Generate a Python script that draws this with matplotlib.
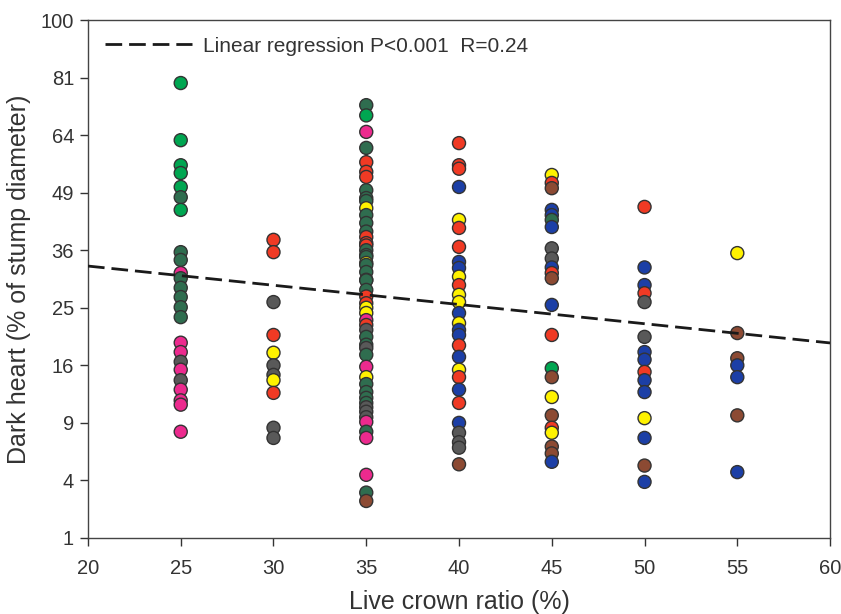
import numpy as np
import matplotlib
matplotlib.use('Agg')
import matplotlib.pyplot as plt
from matplotlib.lines import Line2D

plt.rcParams['font.family'] = ['Liberation Sans', 'DejaVu Sans']

# group colours
palette = {
    'g': '#00a651',   # green
    'd': '#2f6d4f',   # dark green
    'p': '#ec2a8e',   # pink
    'k': '#595959',   # grey
    'r': '#f03a24',   # red
    'y': '#fff200',   # yellow
    'b': '#1c3fa6',   # blue
    'n': '#8c4a33',   # brown
}

# live crown ratio classes (%)
lcr = [25, 30, 35, 40, 45, 50, 55]

# dark heart (% of stump diameter) and group per tree, one list per class
dh_25 = [79.3, 62.6, 55.9, 53.9, 50.4, 47.9, 44.9, 35.6, 34.0, 31.4, 30.4, 28.6,
         26.9, 25.1, 23.4, 19.3, 17.9, 16.5, 15.4, 14.0, 12.8, 11.5, 11.0, 8.1]
grp_25 = 'gggggdgdd' 'pdddddpp' 'kpkppp' 'p'

dh_30 = [38.2, 35.6, 26.0, 20.5, 17.8, 16.0, 14.7, 14.0, 12.4, 8.5, 7.5]
grp_30 = 'rrkrykkyrkk'

dh_35 = [72.6, 69.6, 64.9, 60.5, 56.7, 54.2, 52.9, 49.6, 47.7, 47.0, 45.3, 43.7,
         41.9, 40.0, 38.8, 37.5, 37.0, 36.0, 35.0, 34.6, 33.4, 33.0, 31.6, 30.1,
         30.0, 28.2, 27.0, 25.8, 25.0, 24.1, 22.9, 22.1, 21.3, 20.2, 19.0, 18.5,
         17.5, 15.8, 14.4, 13.5, 12.5, 11.8, 11.2, 10.7, 10.2, 9.6, 9.1, 8.1,
         7.5, 4.4, 3.2, 2.7]
grp_35 = 'dgpdrrrddd' 'ydddrrrddd' 'ydddddrryy' 'prkddkdpyd' 'dddkkkpdpp' 'dn'

dh_40 = [61.8, 55.9, 55.0, 50.4, 42.6, 40.8, 36.7, 33.6, 32.4, 30.7, 29.1, 27.3,
         26.0, 24.1, 22.4, 21.3, 20.5, 18.9, 17.2, 15.4, 14.4, 12.8, 11.2, 9.0,
         8.0, 7.1, 6.6, 5.2]
grp_40 = 'rrrbyrrbbyryybybbrbyrbrbkkkn'

dh_45 = [53.4, 51.4, 50.1, 44.9, 43.7, 42.6, 41.0, 36.4, 34.3, 32.5, 31.4, 30.4,
         25.5, 20.5, 15.6, 14.4, 11.9, 9.8, 8.5, 8.0, 6.7, 6.1, 5.4]
grp_45 = 'yrnbbdbkkbrnbrgnynrynnb'

dh_50 = [45.6, 32.5, 29.1, 27.6, 26.0, 20.2, 17.9, 16.8, 15.1, 14.0, 12.5, 9.5,
         7.5, 5.1, 3.9]
grp_50 = 'rbbrkkbbrbbybnb'

dh_55 = [35.4, 20.8, 17.0, 16.0, 14.4, 9.8, 4.6]
grp_55 = 'ynnbbnb'

dh_cols = [dh_25, dh_30, dh_35, dh_40, dh_45, dh_50, dh_55]
grp_cols = [grp_25, grp_30, grp_35, grp_40, grp_45, grp_50, grp_55]

# regression fitted on square-root scale: sqrt(DH) = a + b * LCR
reg_a = 6.393
reg_b = -0.0334
reg_x = np.array([20, 60])

fig = plt.figure(figsize=(8.41, 6.14), dpi=100)
ax = fig.add_axes([0.1046, 0.1238, 0.8824, 0.8436])

ax.set_yscale('function', functions=(np.sqrt, np.square))

for x, vals, grps in zip(lcr, dh_cols, grp_cols):
    ax.scatter([x] * len(vals), vals, s=88, c=[palette[g] for g in grps],
               edgecolors='#333333', linewidths=1.0, zorder=3)

ax.plot(reg_x, (reg_a + reg_b * reg_x) ** 2, color='#1a1a1a', lw=2.0,
        dashes=(6, 2.5), zorder=4)

ax.set_xlim(20, 60)
ax.set_ylim(1, 100)
ax.set_xticks(range(20, 61, 5))
ax.set_yticks([1, 4, 9, 16, 25, 36, 49, 64, 81, 100])
ax.tick_params(direction='out', length=6, width=1, labelsize=14.5,
               colors='#333333')
ax.tick_params(axis='x', pad=9)
ax.tick_params(axis='y', pad=4)
for s in ax.spines.values():
    s.set_color('#444444')
    s.set_linewidth(1.0)

ax.set_xlabel('Live crown ratio (%)', fontsize=18, color='#333333', labelpad=9)
ax.set_ylabel('Dark heart (% of stump diameter)', fontsize=18, color='#333333',
              labelpad=7)

handle = Line2D([], [], color='#1a1a1a', lw=2.0, dashes=(6, 2.5))
leg = ax.legend([handle], ['Linear regression P<0.001  R=0.24'], loc='upper left',
                frameon=False, fontsize=15, handlelength=4.2, handletextpad=0.5,
                borderaxespad=0.4)
for t in leg.get_texts():
    t.set_color('#333333')

fig.savefig('out.png', dpi=100)
